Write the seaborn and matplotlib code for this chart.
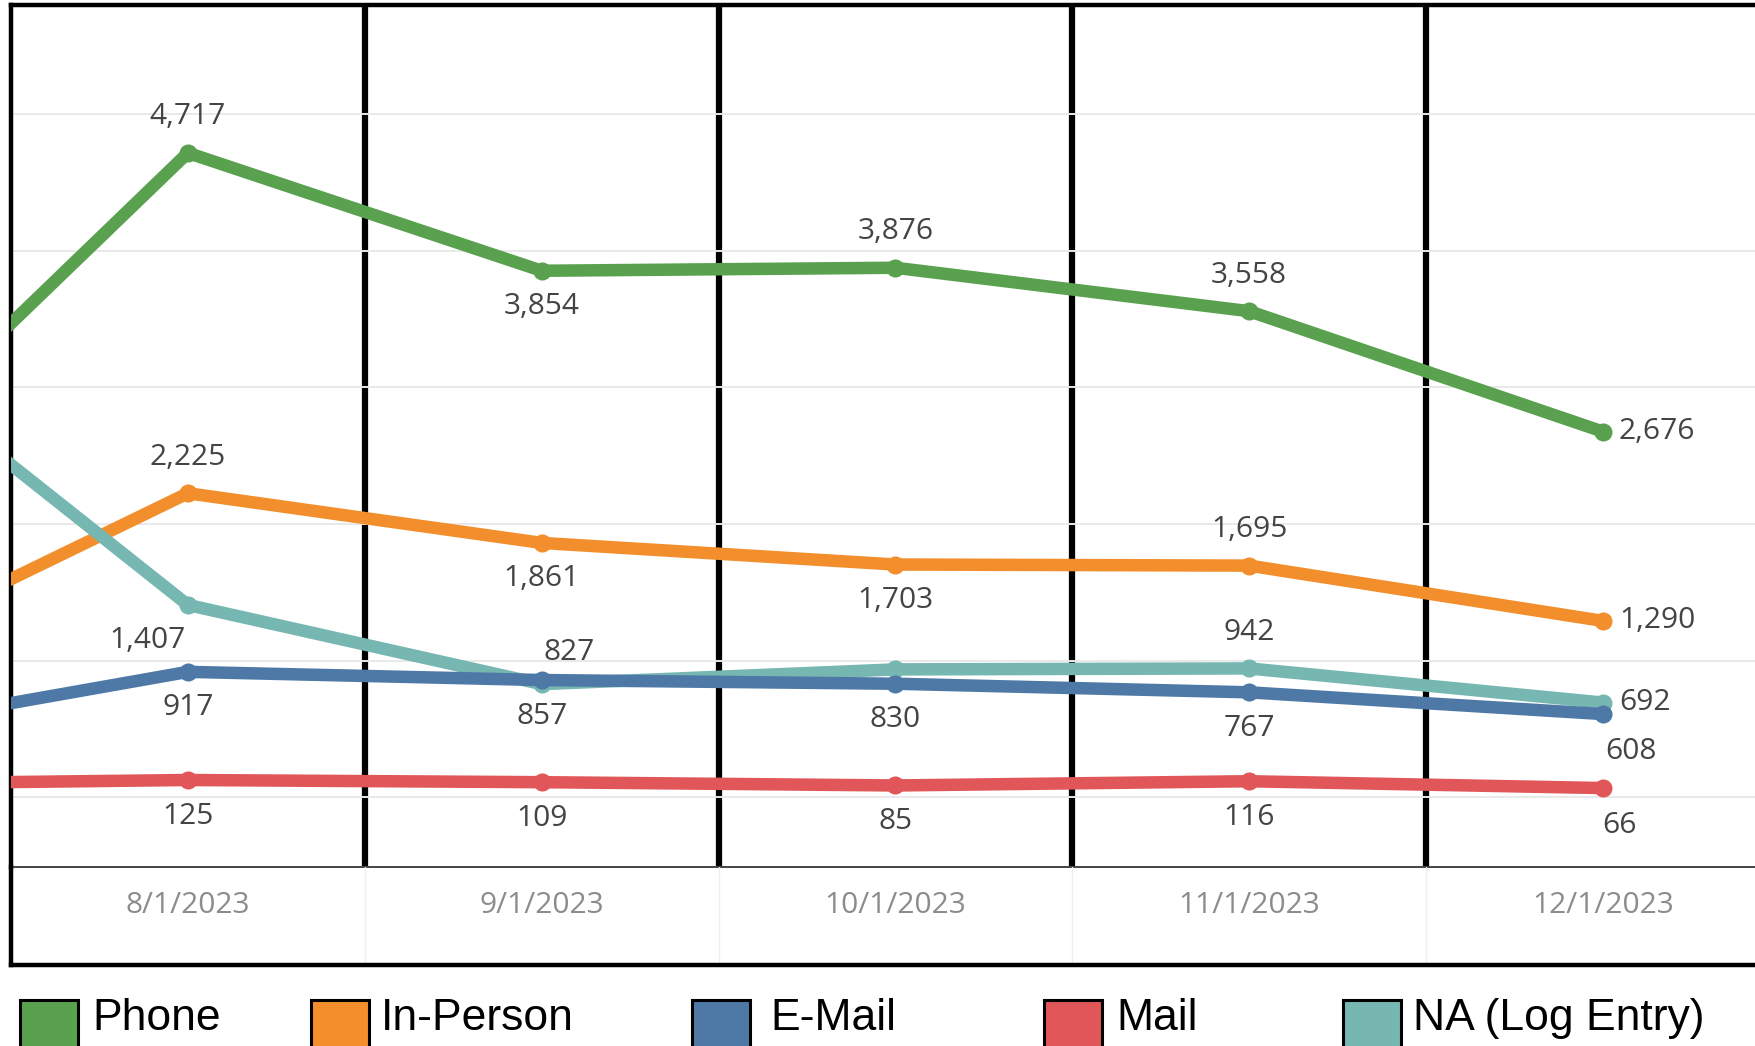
import numpy as np
import pandas as pd
import matplotlib
matplotlib.use("Agg")
import matplotlib.pyplot as plt
import seaborn as sns
from matplotlib.patches import Rectangle

# ---------------- data ----------------
dates = ["7/1/2023", "8/1/2023", "9/1/2023", "10/1/2023", "11/1/2023", "12/1/2023"]
phone = [2220, 4717, 3854, 3876, 3558, 2676]
in_person = [967, 2225, 1861, 1703, 1695, 1290]
email = [459, 917, 857, 830, 767, 608]
mail = [95, 125, 109, 85, 116, 66]
na_log = [3461, 1407, 827, 935, 942, 692]

channels = ["Phone", "In-Person", "E-Mail", "Mail", "NA (Log Entry)"]
series = dict(zip(channels, [phone, in_person, email, mail, na_log]))
colors = dict(zip(channels, ["#59a14f", "#f28e2b", "#4e79a7", "#e15759", "#76b7b2"]))

# label placement for the visible months (8/1 .. 12/1); None = no label
label_place = {
    "Phone": ["a", "b", "a", "a", "r"],
    "In-Person": ["a", "b", "b", "a", "r"],
    "E-Mail": ["b", "b", "b", "b", "br"],
    "Mail": ["b", "b", "b", "b", "bs"],
    "NA (Log Entry)": ["bl", "ar", None, "a", "r"],
}
# offsets in pixels (dx right, dy down), horizontal alignment
place_off = {
    "a": (0, -36, "center"),
    "b": (0, 36, "center"),
    "r": (16, 0, "left"),
    "bl": (-40, 36, "center"),
    "ar": (27, -32, "center"),
    "br": (28, 37, "center"),
    "bs": (17, 37, "center"),
}

rows = []
for ch in channels:
    for i, (d, v) in enumerate(zip(dates, series[ch])):
        rows.append({"pos": i - 1, "date": d, "value": v, "channel": ch})
df = pd.DataFrame(rows)

# ---------------- figure ----------------
sns.set_style("white")
plt.rcParams["font.family"] = ["Open Sans", "DejaVu Sans"]

W, H = 1755, 1046
fig = plt.figure(figsize=(W / 100, H / 100), dpi=100)


def fy(px):
    return 1 - px / H


ax = fig.add_axes([11 / W, fy(867), 1 - 11 / W, (867 - 5) / H])
ax2 = fig.add_axes([11 / W, fy(965), 1 - 11 / W, (965 - 867) / H])

draw_order = ["In-Person", "NA (Log Entry)", "E-Mail", "Mail", "Phone"]
sns.lineplot(data=df, x="pos", y="value", hue="channel", hue_order=draw_order,
             palette=colors, marker="o", legend=False, ax=ax)
for ln in ax.get_lines():
    ln.set_linewidth(9.0)
    ln.set_markersize(13)
    ln.set_markeredgewidth(0)
    ln.set_solid_joinstyle("round")
    ln.set_zorder(3)

xlim = (-0.5, 4.43)
ax.set_xlim(*xlim)
ax.set_ylim(-512, 5800)

# gridlines drawn over the black separators (as in the reference)
for v in range(0, 6000, 1000):
    ax.axhline(v, color="#e9e9e9", lw=1.4, zorder=1.5)
for xs in [0.5, 1.5, 2.5, 3.5]:
    ax.axvline(xs, color="black", lw=4.5, zorder=1)

ax.set_yticks([])
ax.set_ylabel("")
ax.set_xlabel("")
ax.set_xticks(range(5))
ax.set_xticklabels(dates[1:])
ax.tick_params(axis="x", length=0, pad=17, labelsize=21.5, labelcolor="#8c8c8c")

for side in ["left", "top"]:
    ax.spines[side].set_color("black")
    ax.spines[side].set_linewidth(3.2)
ax.spines["right"].set_visible(False)
ax.spines["bottom"].set_color("#444444")
ax.spines["bottom"].set_linewidth(1.4)

# value labels
for ch in channels:
    vals = series[ch][1:]
    for i, (v, p) in enumerate(zip(vals, label_place[ch])):
        if p is None:
            continue
        dx, dy, ha = place_off[p]
        ax.annotate(f"{v:,}", (i, v), xytext=(dx * 0.72, -dy * 0.72),
                    textcoords="offset points", ha=ha, va="center",
                    fontsize=21.5, color="#444444", zorder=5)

# lower label band
ax2.set_xlim(*xlim)
ax2.set_ylim(0, 1)
ax2.set_xticks([])
ax2.set_yticks([])
for xs in [0.5, 1.5, 2.5, 3.5]:
    ax2.axvline(xs, color="#efefef", lw=1.0)
ax2.spines["top"].set_visible(False)
ax2.spines["right"].set_visible(False)
for side in ["left", "bottom"]:
    ax2.spines[side].set_color("black")
    ax2.spines[side].set_linewidth(3.2)
ax2.patch.set_alpha(0)

# legend (manual, as in the reference)
sq_x = [20, 311, 692, 1044, 1343]
tx_x = [92, 381, 770, 1116, 1413]
for ch, sx, tx in zip(channels, sq_x, tx_x):
    fig.add_artist(Rectangle((sx / W, fy(1060)), 58 / W, (1060 - 1000) / H,
                             transform=fig.transFigure, facecolor=colors[ch],
                             edgecolor="black", linewidth=2.2))
    fig.text(tx / W, fy(1030), ch, ha="left", va="baseline", fontsize=32,
             color="black", family=["Liberation Sans Narrow", "Liberation Sans"])

fig.savefig("out.png", dpi=100)
